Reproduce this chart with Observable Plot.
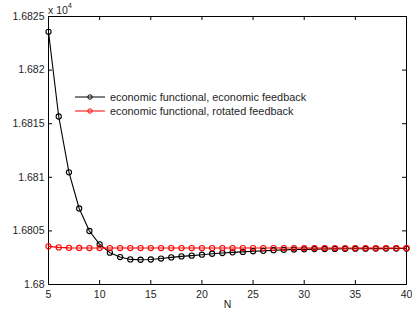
<!DOCTYPE html>
<html>
<head>
<meta charset="utf-8">
<script src="https://cdn.jsdelivr.net/npm/d3@7"></script>
<script src="https://cdn.jsdelivr.net/npm/@observablehq/plot@0.6"></script>
<style>
  body { margin: 0; background: #fff; }
  #wrap { position: relative; width: 412px; height: 311px; font-family: "Liberation Sans", Arial, sans-serif; color: #262626; }
  #exp { position: absolute; left: 48px; top: 2px; font-size: 10.5px; }
  #exp sup { font-size: 7.5px; position: relative; top: -1px; }
  #legend { position: absolute; left: 74px; top: 90px; font-size: 10.9px; }
  .row { display: flex; align-items: center; height: 14px; }
  .row svg { margin-right: 4px; }
</style>
</head>
<body>
<div id="wrap">
  <div id="exp">x 10<sup>4</sup></div>
  <div id="legend"></div>
</div>
<script>
const N = [5,6,7,8,9,10,11,12,13,14,15,16,17,18,19,20,21,22,23,24,25,26,27,28,29,30,31,32,33,34,35,36,37,38,39,40];
const economicFeedback = [16823.57,16815.67,16810.46,16807.09,16804.99,16803.75,16802.97,16802.56,16802.34,16802.31,16802.33,16802.42,16802.53,16802.62,16802.69,16802.78,16802.87,16802.94,16803.00,16803.04,16803.10,16803.14,16803.20,16803.23,16803.26,16803.28,16803.30,16803.31,16803.32,16803.33,16803.34,16803.34,16803.35,16803.35,16803.36,16803.36];
const rotatedFeedback = [16803.56,16803.46,16803.42,16803.41,16803.40,16803.40,16803.40,16803.40,16803.40,16803.40,16803.40,16803.40,16803.40,16803.40,16803.40,16803.40,16803.40,16803.40,16803.40,16803.40,16803.40,16803.40,16803.40,16803.40,16803.40,16803.40,16803.40,16803.40,16803.40,16803.40,16803.40,16803.40,16803.40,16803.40,16803.40,16803.40];
const seriesNames = ["economic functional, economic feedback", "economic functional, rotated feedback"];
const seriesColors = ["#000000", "#ff0000"];
const xTicks = [5,10,15,20,25,30,35,40];
const yTicks = [16800,16805,16810,16815,16820,16825];

const rows = [];
N.forEach((n, i) => {
  rows.push({N: n, v: economicFeedback[i], s: seriesNames[0]});
  rows.push({N: n, v: rotatedFeedback[i], s: seriesNames[1]});
});

const xDom = [5, 40], yDom = [16800, 16825];
const tickLenY = (yDom[1] - yDom[0]) * 4 / 268;
const tickLenX = (xDom[1] - xDom[0]) * 4 / 358;

const plot = Plot.plot({
  width: 412,
  height: 311,
  marginLeft: 48,
  marginRight: 6,
  marginTop: 16,
  marginBottom: 27,
  style: {fontFamily: '"Liberation Sans", Arial, sans-serif', fontSize: "10.5px", color: "#262626", background: "transparent"},
  x: {domain: xDom},
  y: {domain: yDom},
  color: {domain: seriesNames, range: seriesColors},
  marks: [
    Plot.frame({stroke: "#000", strokeWidth: 1}),
    Plot.ruleX(xTicks, {x: d => d, y1: yDom[0], y2: yDom[0] + tickLenY, stroke: "#000"}),
    Plot.ruleX(xTicks, {x: d => d, y1: yDom[1], y2: yDom[1] - tickLenY, stroke: "#000"}),
    Plot.ruleY(yTicks, {y: d => d, x1: xDom[0], x2: xDom[0] + tickLenX, stroke: "#000"}),
    Plot.ruleY(yTicks, {y: d => d, x1: xDom[1], x2: xDom[1] - tickLenX, stroke: "#000"}),
    Plot.axisX({ticks: xTicks, tickSize: 0, tickPadding: 6, label: "N", labelAnchor: "center", labelArrow: "none", labelOffset: 23, fill: "#262626"}),
    Plot.axisY({ticks: yTicks, tickSize: 0, tickPadding: 4, tickFormat: d => String(+(d / 1e4).toFixed(4)), label: null, fill: "#262626"}),
    Plot.line(rows, {x: "N", y: "v", z: "s", stroke: "s", strokeWidth: 1.1}),
    Plot.dot(rows, {x: "N", y: "v", stroke: "s", r: 2.6, fill: "none", strokeWidth: 1.1})
  ]
});
document.getElementById("wrap").appendChild(plot);

const legend = document.getElementById("legend");
seriesNames.forEach((name, i) => {
  const row = document.createElement("div");
  row.className = "row";
  row.innerHTML = `<svg width="32" height="8"><line x1="1" x2="31" y1="4" y2="4" stroke="${seriesColors[i]}" stroke-width="1"/><circle cx="16" cy="4" r="2.2" fill="none" stroke="${seriesColors[i]}"/></svg><span>${name}</span>`;
  legend.appendChild(row);
});
</script>
</body>
</html>
